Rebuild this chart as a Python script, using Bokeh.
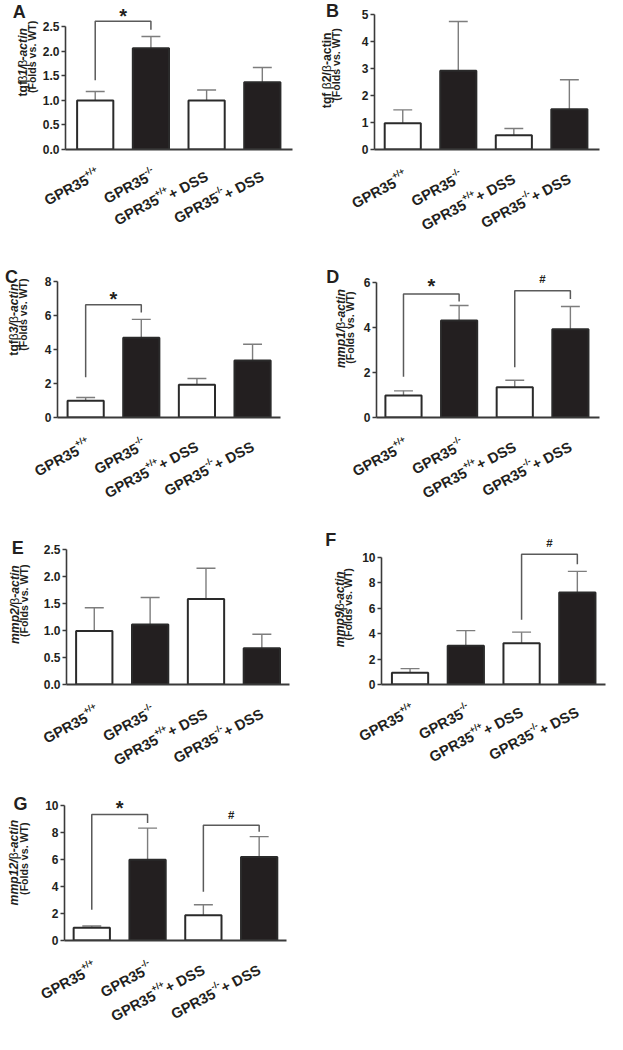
import math, re
from bokeh.plotting import figure
from bokeh.models import FixedTicker, Range1d
from bokeh.layouts import column, row
from bokeh.embed import file_html
from bokeh.resources import INLINE
from bokeh.core.properties import value

FONT = "Liberation Sans"
TXT = "#231f20"
DARK = "#231f20"
AXIS = "#3a3a3a"
ERR = "#7d7d7d"
BRK = "#5a5a5a"
S = 607 / 623

# ---------------- data ----------------
categories = ["GPR35+/+", "GPR35-/-", "GPR35+/+ + DSS", "GPR35-/- + DSS"]
bar_fill = ["white", DARK, "white", DARK]

a_mean = [1.00, 2.06, 1.00, 1.37]
a_err = [0.18, 0.24, 0.21, 0.30]
a_ticks = [0, 0.5, 1.0, 1.5, 2.0, 2.5]
a_tick_labels = ["0.0", "0.5", "1.0", "1.5", "2.0", "2.5"]
a_brackets = [(0, 1, 2.61, 1.41, 2.44, "*", 2.78)]

b_mean = [0.97, 2.92, 0.53, 1.49]
b_err = [0.50, 1.83, 0.25, 1.10]
b_ticks = [0, 1, 2, 3, 4, 5]
b_tick_labels = ["0", "1", "2", "3", "4", "5"]
b_brackets = []

c_mean = [0.99, 4.70, 1.94, 3.37]
c_err = [0.19, 1.09, 0.36, 0.95]
c_ticks = [0, 2, 4, 6, 8]
c_tick_labels = ["0", "2", "4", "6", "8"]
c_brackets = [(0, 1, 6.65, 2.38, 6.19, "*", 7.18)]

d_mean = [0.97, 4.30, 1.34, 3.91]
d_err = [0.21, 0.66, 0.31, 1.01]
d_ticks = [0, 2, 4, 6]
d_tick_labels = ["0", "2", "4", "6"]
d_brackets = [(0, 1, 5.47, 1.80, 5.14, "*", 5.97), (2, 3, 5.61, 2.23, 5.25, "#", 6.14)]

e_mean = [0.99, 1.11, 1.58, 0.67]
e_err = [0.43, 0.50, 0.57, 0.26]
e_ticks = [0, 0.5, 1.0, 1.5, 2.0, 2.5]
e_tick_labels = ["0.0", "0.5", "1.0", "1.5", "2.0", "2.5"]
e_brackets = []

f_mean = [0.93, 3.05, 3.24, 7.24]
f_err = [0.32, 1.19, 0.88, 1.66]
f_ticks = [0, 2, 4, 6, 8, 10]
f_tick_labels = ["0", "2", "4", "6", "8", "10"]
f_brackets = [(2, 3, 10.26, 5.10, 9.47, "#", 11.17)]

g_mean = [0.94, 6.00, 1.88, 6.19]
g_err = [0.14, 2.34, 0.77, 1.52]
g_ticks = [0, 2, 4, 6, 8, 10]
g_tick_labels = ["0", "2", "4", "6", "8", "10"]
g_brackets = [(0, 1, 9.35, 2.29, 8.72, "*", 10.1), (2, 3, 8.55, 3.61, 8.07, "#", 9.28)]

ylab2 = "(Folds vs. WT)"
a_ylab = [("tgf", "bold"), ("β", "normal"), ("1/", "bold italic"), ("β", "normal"), ("-actin", "bold italic")]
b_ylab = [("tgf ", "bold"), ("β", "normal"), ("2/", "bold"), ("β", "normal"), ("-actin", "bold")]
c_ylab = [("tgf", "bold"), ("β", "normal"), ("3/", "bold italic"), ("β", "normal"), ("-actin", "bold italic")]
d_ylab = [("mmp1/", "bold italic"), ("β", "normal"), ("-actin", "bold italic")]
e_ylab = [("mmp2/", "bold italic"), ("β", "normal"), ("-actin", "bold italic")]
f_ylab = [("mmp9/", "bold italic"), ("β", "normal"), ("-actin", "bold italic")]
g_ylab = [("mmp12/", "bold italic"), ("β", "normal"), ("-actin", "bold italic")]

# ---------------- font metrics (Arial/Liberation Sans Bold, em) ----------------
WID = {'G': .778, 'P': .667, 'R': .722, '+': .584, '/': .278, '-': .333, ' ': .278, 'D': .722,
       'S': .667, 't': .333, 'g': .611, 'f': .333, 'm': .889, 'p': .611, 'a': .556, 'c': .556,
       'i': .278, 'n': .611, '(': .333, ')': .333, 'F': .611, 'o': .611, 'l': .278, 'd': .611,
       's': .556, 'v': .556, '.': .278, 'W': .944, 'T': .611, 'β': .574}


def tw(s, size):
    return sum(WID.get(ch, .556) for ch in s) * size


CAT_SIZE = 14.6
SUP_SIZE = CAT_SIZE * 0.62
SUP_RAISE = CAT_SIZE * 0.42
TICK_SIZE = 12.0
YL1_SIZE = 12.2
YL2_SIZE = 10.6
LET_SIZE = 18.0
ANG = math.radians(28)


def add_text(p, x, y, txt, size, style="bold", angle=0.0, align="left", baseline="alphabetic"):
    r = p.text(x=[x], y=[y], text=[txt], angle=angle, text_font=value(FONT),
               text_font_size=f"{size:.2f}px", text_font_style=style, text_align=align,
               text_baseline=baseline, text_color=TXT)
    r.level = "overlay"
    return r


def make_panel(sp):
    cx, cy, cw, ch = sp["cell"]
    ax, aend, ttop, base, c1, c4 = sp["ax"], sp["aend"], sp["ttop"], sp["base"], sp["c1"], sp["c4"]
    ticks, labels = sp["ticks"], sp["labels"]
    ymax = ticks[-1]
    W = round(cw * S)
    H = round(ch * S)
    left = round((ax - cx) * S)
    fw = round((aend - ax) * S)
    right = W - left - fw
    ftop = cy + 3
    top = round((ftop - cy) * S)
    fh = round((base - ftop) * S)
    bottom = H - top - fh
    unit = (c4 - c1) / 3 * S
    x0 = -(c1 - ax) * S / unit
    x1 = x0 + fw / unit
    ypx = (base - ttop) * S / ymax
    y1 = fh / ypx

    p = figure(width=W, height=H, x_range=Range1d(x0, x1), y_range=Range1d(0, y1),
               min_border_left=left, min_border_right=right, min_border_top=top,
               min_border_bottom=bottom, toolbar_location=None, output_backend="svg",
               title=None)
    p.outline_line_color = None
    p.xgrid.visible = False
    p.ygrid.visible = False
    p.background_fill_color = "white"
    p.border_fill_color = "white"

    def ref2data(X, Y):
        return x0 + (X - ax) * S / unit, (base - Y) * S / ypx

    # axes
    ya = p.yaxis[0]
    ya.ticker = FixedTicker(ticks=ticks)
    ya.bounds = (0, ymax)
    ya.major_label_overrides = {float(t): l for t, l in zip(ticks, labels)}
    ya.axis_line_color = AXIS
    ya.axis_line_width = 1.6
    ya.major_tick_line_color = AXIS
    ya.major_tick_line_width = 1.4
    ya.major_tick_in = 0
    ya.major_tick_out = 4
    ya.minor_tick_line_color = None
    ya.major_label_standoff = 2
    ya.major_label_text_font = FONT
    ya.major_label_text_font_style = "bold"
    ya.major_label_text_font_size = f"{TICK_SIZE}px"
    ya.major_label_text_color = TXT

    xa = p.xaxis[0]
    xa.ticker = FixedTicker(ticks=[])
    xa.axis_line_color = AXIS
    xa.axis_line_width = 1.8
    xa.major_tick_line_color = None
    xa.minor_tick_line_color = None
    xa.major_label_text_font_size = "0px"

    xs = list(range(len(categories)))
    mean, err = sp["mean"], sp["err"]
    tops = [m + e for m, e in zip(mean, err)]
    p.segment(x0=xs, y0=mean, x1=xs, y1=tops, line_color=ERR, line_width=1.4)
    p.segment(x0=[x - 0.17 for x in xs], y0=tops, x1=[x + 0.17 for x in xs], y1=tops,
              line_color=ERR, line_width=1.4)
    p.vbar(x=xs, top=mean, bottom=0, width=0.65, fill_color=bar_fill, line_color="#2a2a2a",
           line_width=2)

    for (i, j, lev, lb, rb, sym, sy) in sp["brackets"]:
        p.multi_line(xs=[[i, i, j, j]], ys=[[lb, lev, lev, rb]], line_color=BRK, line_width=1.5)
        if sym == "*":
            add_text(p, (i + j) / 2, sy - 0.17 * 20 / ypx, "*", 20, "bold", 0, "center", "middle")
        else:
            add_text(p, (i + j) / 2, sy, "#", 11.5, "bold", 0, "center", "middle")

    # category labels (rotated, with superscript genotype)
    c, s_ = math.cos(ANG), math.sin(ANG)
    adx, ady = 4 * S, -27 * S
    for i, lab in enumerate(categories):
        m = re.match(r"(GPR35)([+\-]/[+\-])(.*)", lab)
        basetxt, sup, suf = m.group(1), m.group(2), m.group(3)
        parts = []
        d = 0.0
        if suf:
            parts.append((suf, CAT_SIZE, d, 0.0))
            d += tw(suf, CAT_SIZE)
        parts.append((sup, SUP_SIZE, d, SUP_RAISE))
        d += tw(sup, SUP_SIZE)
        parts.append((basetxt, CAT_SIZE, d, 0.0))
        for (t, size, dd, r) in parts:
            px = adx - dd * c - r * s_
            py = ady - dd * s_ + r * c
            add_text(p, i + px / unit, py / ypx, t, size, "bold", ANG, "right", "alphabetic")

    # y labels (rotated 90)
    for parts, (X, Y), size in ((sp["ylab"], sp["yl1"], YL1_SIZE), ([(ylab2, "bold")], sp["yl2"], YL2_SIZE)):
        L = sum(tw(t, size) for t, _ in parts)
        xd, yd = ref2data(X, Y)
        py0 = (base - Y) * S - L / 2
        d = 0.0
        for t, st in parts:
            add_text(p, xd, (py0 + d) / ypx, t, size, st, math.pi / 2, "left", "middle")
            d += tw(t, size)

    lx, ly = ref2data(*sp["letter_pos"])
    add_text(p, lx, ly, sp["letter"], LET_SIZE, "bold", 0, "center", "middle")
    return p


panels = {
    "A": dict(cell=(0, 0, 310, 262), ax=67, aend=300, ttop=29, base=168, c1=97.5, c4=269,
              mean=a_mean, err=a_err, ticks=a_ticks, labels=a_tick_labels, brackets=a_brackets,
              ylab=a_ylab, yl1=(23, 71), yl2=(32.5, 67), letter="A", letter_pos=(19.5, 12.5)),
    "B": dict(cell=(310, 0, 313, 262), ax=384, aend=615, ttop=15, base=153.3, c1=413, c4=584,
              mean=b_mean, err=b_err, ticks=b_ticks, labels=b_tick_labels, brackets=b_brackets,
              ylab=b_ylab, yl1=(335, 72), yl2=(344, 66), letter="B", letter_pos=(341, 11)),
    "C": dict(cell=(0, 262, 310, 266), ax=58.3, aend=287, ttop=289, base=429, c1=87.2, c4=258.5,
              mean=c_mean, err=c_err, ticks=c_ticks, labels=c_tick_labels, brackets=c_brackets,
              ylab=c_ylab, yl1=(14, 328), yl2=(22.5, 323), letter="C", letter_pos=(11, 284)),
    "D": dict(cell=(310, 262, 313, 266), ax=386, aend=615, ttop=289.3, base=428.3, c1=413.7, c4=585,
              mean=d_mean, err=d_err, ticks=d_ticks, labels=d_tick_labels, brackets=d_brackets,
              ylab=d_ylab, yl1=(350, 337), yl2=(359, 336), letter="D", letter_pos=(341, 284)),
    "E": dict(cell=(0, 528, 310, 268), ax=68, aend=296.7, ttop=563.3, base=702, c1=96.5, c4=268.5,
              mean=e_mean, err=e_err, ticks=e_ticks, labels=e_tick_labels, brackets=e_brackets,
              ylab=e_ylab, yl1=(15, 620), yl2=(24, 616), letter="E", letter_pos=(18, 562)),
    "F": dict(cell=(310, 528, 313, 268), ax=391, aend=621, ttop=574.3, base=713.3, c1=420.3, c4=592,
              mean=f_mean, err=f_err, ticks=f_ticks, labels=f_tick_labels, brackets=f_brackets,
              ylab=f_ylab, yl1=(348, 632), yl2=(357, 628), letter="F", letter_pos=(339, 555)),
    "G": dict(cell=(0, 796, 310, 262), ax=65.7, aend=294, ttop=826.7, base=965, c1=93.7, c4=265.5,
              mean=g_mean, err=g_err, ticks=g_ticks, labels=g_tick_labels, brackets=g_brackets,
              ylab=g_ylab, yl1=(14, 885), yl2=(24, 881), letter="G", letter_pos=(20.5, 825)),
}

figs = {k: make_panel(v) for k, v in panels.items()}
layout = column(row(figs["A"], figs["B"]), row(figs["C"], figs["D"]),
                row(figs["E"], figs["F"]), row(figs["G"]))

open("out.html", "w").write(file_html(layout, INLINE))
